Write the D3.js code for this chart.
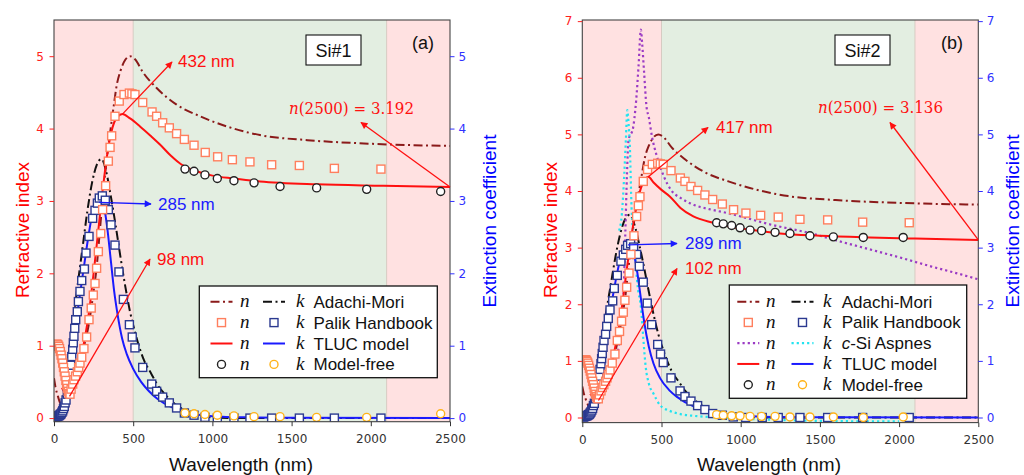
<!DOCTYPE html>
<html><head><meta charset="utf-8">
<script src="https://cdn.jsdelivr.net/npm/d3@7"></script>
<style>body{margin:0;background:#fff}svg{display:block}</style>
</head><body><svg id="c" width="1024" height="475"></svg>
<script>
// ---------------- DATA ----------------
const xTicks=[0,500,1000,1500,2000,2500];
const yTicksA=[0,1,2,3,4,5];
const yTicksB=[0,1,2,3,4,5,6,7];
const regionStart=[0,500,2100];
const regionEnd=[500,2100,2500];

// Palik Handbook (shared by both panels)
const palikNWl=[10,15,20,25,30,35,40,45,50,55,60,65,70,75,80,85,90,95,101,108,118,126,136,147,156,164,175,189,206,221,235,248,259,269,280,295,307,326,343,354,364,385,412,442,476,492,511,560,619,648,686,728,774,823,884,955,1033,1126,1237,1374,1549,1770,2064];
const palikN=[1.00,1.02,1.02,1.01,0.99,0.96,0.92,0.87,0.82,0.76,0.70,0.64,0.58,0.52,0.46,0.41,0.37,0.34,0.33,0.40,0.47,0.53,0.58,0.64,0.70,0.76,0.84,0.96,1.12,1.36,1.52,1.70,1.86,2.07,2.30,2.55,2.88,3.21,3.55,3.74,3.90,4.17,4.38,4.47,4.49,4.48,4.47,4.36,4.23,4.17,4.08,4.01,3.93,3.85,3.77,3.67,3.61,3.57,3.54,3.50,3.49,3.45,3.44];
const palikKWl=[5,10,15,20,25,30,35,40,45,50,55,60,65,70,76,84,90,95,100,105,112,118,122,126,131,137,147,154,164,175,192,202,221,244,259,274,286,305,324,343,360,385,410,438,476,494,511,560,617,648,686,728,774,823,884,953,1031,1136,1237,1374,1549,1770,2064];
const palikK=[0.01,0.01,0.02,0.02,0.03,0.03,0.04,0.05,0.06,0.08,0.10,0.13,0.16,0.21,0.25,0.33,0.43,0.52,0.62,0.73,0.85,0.95,1.04,1.13,1.24,1.36,1.47,1.61,1.75,1.90,2.06,2.28,2.51,2.76,2.87,2.97,3.04,3.07,3.01,2.88,2.67,2.39,2.02,1.64,1.29,1.12,0.97,0.70,0.47,0.37,0.29,0.21,0.14,0.07,0.04,0.01,0,0,0,0,0,0,0];

// Adachi-Mori (shared)
const adachiNWl=[0,10,25,40,60,80,100,130,160,190,220,250,270,290,310,330,354,375,396,420,450,480,510,564,648,774,922,1090,1300,1600,2000,2500];
const adachiN=[0.55,0.42,0.30,0.20,0.16,0.24,0.36,0.56,0.78,1.00,1.30,1.75,2.10,2.60,3.10,3.52,3.94,4.28,4.60,4.80,4.95,5.00,4.96,4.77,4.56,4.33,4.17,4.03,3.91,3.84,3.79,3.76];
const adachiKWl=[0,20,35,50,70,90,120,150,180,210,240,270,300,330,360,390,420,450,480,510,540,570,610,650,700,750,800,850,900,1000,1200,2500];
const adachiK=[0,0,0.05,0.18,0.45,0.75,1.3,1.85,2.35,2.85,3.25,3.5,3.58,3.4,3.05,2.65,2.22,1.82,1.47,1.2,0.97,0.79,0.63,0.47,0.33,0.22,0.14,0.08,0.04,0.01,0,0];

// TLUC model, Si#1
const tlucANWl=[50,75,98,130,160,190,220,250,280,310,340,370,400,432,480,543,610,669,740,800,900,1000,1136,1300,1658,2079,2500];
const tlucAN=[0.42,0.33,0.30,0.50,0.75,1.05,1.45,2.00,2.60,3.20,3.70,4.02,4.16,4.20,4.14,4.03,3.90,3.78,3.62,3.51,3.41,3.35,3.31,3.27,3.23,3.21,3.192];
const tlucAKWl=[30,45,60,80,100,126,160,189,220,253,285,310,335,360,380,400,430,460,500,550,600,650,700,800,900,1000,1200,1500,2500];
const tlucAK=[0,0.02,0.08,0.3,0.6,1.08,1.65,2.09,2.55,2.92,3.0,2.96,2.65,2.15,1.75,1.45,1.1,0.88,0.68,0.5,0.37,0.27,0.2,0.1,0.05,0.025,0.01,0.005,0];
// TLUC model, Si#2
const tlucBNWl=[50,75,102,130,160,190,220,250,280,310,340,370,395,417,450,500,554,620,701,827,950,1080,1248,1500,1815,2100,2500];
const tlucBN=[0.42,0.33,0.30,0.48,0.72,1.02,1.42,1.95,2.6,3.2,3.7,4.05,4.2,4.25,4.15,4.02,3.9,3.7,3.55,3.44,3.36,3.31,3.25,3.21,3.18,3.16,3.136];
const tlucBKWl=[30,45,60,80,100,126,160,190,220,255,289,320,345,370,390,420,450,490,550,600,700,800,900,1000,1200,1500,2500];
const tlucBK=[0,0.02,0.08,0.3,0.6,1.08,1.65,2.1,2.55,2.95,3.05,2.95,2.6,2.1,1.7,1.25,0.95,0.7,0.48,0.36,0.2,0.11,0.06,0.03,0.01,0.005,0];

// Model-free
const mfAWl=[827,884,953,1031,1136,1263,1427,1658,1974,2441];
const mfAN=[3.44,3.41,3.36,3.31,3.28,3.25,3.20,3.18,3.16,3.13];
const mfAK=[0.07,0.06,0.05,0.04,0.03,0.02,0.02,0.01,0.01,0.06];
const mfBWl=[848,890,943,996,1059,1132,1217,1311,1437,1585,1774,2026];
const mfBN=[3.44,3.42,3.39,3.35,3.31,3.30,3.27,3.25,3.21,3.19,3.18,3.18];
const mfBK=[0.05,0.04,0.03,0.03,0.02,0.02,0.02,0.01,0.01,0.01,0.0,0.01];

// c-Si Aspnes (Si#2 only)
const aspnesNWl=[210,230,250,262,272,282,292,305,318,340,355,370,378,390,405,420,440,470,516,560,630,700,800,900,1000,1200,1400,1500,1600,1800,2000,2200,2400,2500];
const aspnesN=[1.0,1.25,1.65,2.3,3.3,4.3,4.9,5.0,5.08,5.6,6.2,6.85,6.6,6.1,5.5,5.3,4.96,4.62,4.25,4.02,3.86,3.76,3.68,3.62,3.55,3.40,3.28,3.21,3.13,2.98,2.83,2.67,2.52,2.44];
const aspnesKWl=[232,250,265,275,284,292,300,311,330,350,370,385,400,420,450,490,550,620,700,800,900,1000,1200,1500,2000];
const aspnesK=[3.3,3.6,4.3,4.9,5.43,5.2,4.8,3.7,3.0,2.3,1.95,1.4,0.9,0.6,0.42,0.22,0.12,0.06,0.03,0.01,0,-0.02,-0.04,-0.06,-0.07];

// ---------------- STYLE ----------------
const C={adN:'#8B1A1A',adK:'#111',palN:'#FF7F5E',palK:'#2B3990',tN:'#FF1010',tK:'#1A1AFF',mfN:'#222',mfK:'#FFB31A',aspN:'#9B3BC4',aspK:'#22E3F0',pink:'#FFE1E1',green:'#E3EEE1'};
const regionColor=[C.pink,C.green,C.pink];
const DASHDOT='9,3.5,2,3.5', DOT='2.2,3';
const SANS="'Liberation Sans', Arial, sans-serif", TICKF="'DejaVu Sans', sans-serif", SERIF="'DejaVu Serif', serif";

const svg=d3.select('#c');
const defs=svg.append('defs');
function arrowMarker(id,color){
  defs.append('marker').attr('id',id).attr('viewBox','0 0 10 10').attr('refX',9).attr('refY',5)
    .attr('markerWidth',9).attr('markerHeight',7).attr('markerUnits','userSpaceOnUse').attr('orient','auto')
    .append('path').attr('d','M0,0 L10,5 L0,10 Z').attr('fill',color);
}
arrowMarker('arR','#FF1010'); arrowMarker('arB','#1A1AFF');
const zip=(a,b)=>a.map((v,i)=>[v,b[i]]);

function drawPanel(P){
  const g=svg.append('g');
  const x=d3.scaleLinear().domain([0,2500]).range([P.left,P.right]);
  const y=d3.scaleLinear().domain(P.yDom).range([P.bottom,P.top]);
  const clipId='clip'+P.id;
  defs.append('clipPath').attr('id',clipId).append('rect').attr('x',P.left).attr('y',P.top).attr('width',P.right-P.left).attr('height',P.bottom-P.top);
  regionStart.forEach((s,i)=>{
    g.append('rect').attr('x',x(s)).attr('y',P.top).attr('width',x(regionEnd[i])-x(s)).attr('height',P.bottom-P.top).attr('fill',regionColor[i]);
  });
  [500,2100].forEach(v=>g.append('line').attr('x1',x(v)).attr('x2',x(v)).attr('y1',P.top).attr('y2',P.bottom).attr('stroke','#d6cbc2').attr('stroke-width',1));
  const plot=g.append('g').attr('clip-path',`url(#${clipId})`);
  const line=d3.line().x(d=>x(d[0])).y(d=>y(d[1])).curve(d3.curveMonotoneX);
  const path=(data,color,w,dash)=>plot.append('path').datum(data).attr('d',line).attr('fill','none')
    .attr('stroke',color).attr('stroke-width',w).attr('stroke-dasharray',dash||null);
  path(zip(adachiNWl,adachiN),C.adN,2,DASHDOT);
  path(zip(adachiKWl,adachiK),C.adK,2,DASHDOT);
  if(P.aspnes){
    path(zip(aspnesNWl,aspnesN),C.aspN,2.2,DOT);
    path(zip(aspnesKWl,aspnesK),C.aspK,2.2,DOT);
  }
  path(zip(P.tnW,P.tn),C.tN,2);
  path(zip(P.tkW,P.tk),C.tK,2);
  const sq=8;
  const squares=(data,color)=>plot.append('g').selectAll('rect').data(data).enter().append('rect')
    .attr('x',d=>x(d[0])-sq/2).attr('y',d=>y(d[1])-sq/2).attr('width',sq).attr('height',sq)
    .attr('fill','#fff').attr('stroke',color).attr('stroke-width',1.4);
  squares(zip(palikKWl,palikK),C.palK);
  squares(zip(palikNWl,palikN),C.palN);
  const circles=(data,color)=>plot.append('g').selectAll('circle').data(data).enter().append('circle')
    .attr('cx',d=>x(d[0])).attr('cy',d=>y(d[1])).attr('r',4).attr('fill','#fff').attr('stroke',color).attr('stroke-width',1.4);
  circles(zip(P.mfW,P.mfN),C.mfN);
  circles(zip(P.mfW,P.mfK),C.mfK);

  // spines
  g.append('rect').attr('x',P.left).attr('y',P.top).attr('width',P.right-P.left).attr('height',P.bottom-P.top)
    .attr('fill','none').attr('stroke','#444').attr('stroke-width',1.1);

  // axes
  const fmt=d3.format('d');
  const styleAx=(s,col)=>{s.select('.domain').remove();s.attr('font-family',TICKF).attr('font-size',12);
    s.selectAll('line').attr('stroke',col).attr('stroke-width',1);s.selectAll('text').attr('fill',col);};
  g.append('g').attr('transform',`translate(${P.left},0)`).call(d3.axisLeft(y).tickValues(P.yTicks).tickSize(4.5).tickPadding(5.5).tickFormat(fmt)).call(s=>styleAx(s,'#FF2020'));
  g.append('g').attr('transform',`translate(${P.right},0)`).call(d3.axisRight(y).tickValues(P.yTicks).tickSize(4.5).tickPadding(4).tickFormat(fmt)).call(s=>styleAx(s,'#3030FF'));
  g.append('g').attr('transform',`translate(0,${P.bottom})`).call(d3.axisBottom(x).tickValues(xTicks).tickSize(4.5).tickPadding(8).tickFormat(fmt)).call(s=>styleAx(s,'#333'));

  // axis labels
  g.append('text').attr('x',P.xLabX).attr('y',471).attr('text-anchor','middle').attr('font-family',SANS).attr('font-size',19).attr('fill','#111').text('Wavelength (nm)');
  g.append('text').attr('transform',`translate(${P.yLabX},230) rotate(-90)`).attr('dy','0.35em').attr('text-anchor','middle').attr('font-family',SANS).attr('font-size',19).attr('fill','#FF0000').text('Refractive index');
  g.append('text').attr('transform',`translate(${P.y2LabX},221) rotate(-90)`).attr('dy','0.35em').attr('text-anchor','middle').attr('font-family',SANS).attr('font-size',19).attr('fill','#0000FF').text('Extinction coefficient');

  // sample box and panel letter
  g.append('rect').attr('x',P.boxX).attr('y',35).attr('width',55).attr('height',30).attr('fill','#fff').attr('stroke','#111').attr('stroke-width',1.1);
  g.append('text').attr('x',P.boxX+27.5).attr('y',56.5).attr('text-anchor','middle').attr('font-family',SANS).attr('font-size',18).attr('fill','#111').text(P.sample);
  g.append('text').attr('x',P.letterX).attr('y',49).attr('text-anchor','middle').attr('font-family',SANS).attr('font-size',18).attr('fill','#111').text(P.letter);

  // annotations
  const arrow=(x1,y1,x2,y2,col,mk)=>g.append('line').attr('x1',x1).attr('y1',y1).attr('x2',x2).attr('y2',y2)
    .attr('stroke',col).attr('stroke-width',1.3).attr('marker-end',`url(#${mk})`);
  const lab=(tx,ty,txt,col)=>g.append('text').attr('x',tx).attr('y',ty).attr('font-family',SANS).attr('font-size',17).attr('fill',col).text(txt);
  P.ann.forEach(a=>{
    const col=a.blue?C.tK:C.tN;
    arrow(x(a.wl),y(a.v),a.hx,a.hy,col,a.blue?'arB':'arR');
    lab(a.tx,a.ty,a.text,col);
  });
  // n(2500)
  arrow(x(2500),y(P.n2500),P.nArrow[0],P.nArrow[1],C.tN,'arR');
  const t=g.append('text').attr('x',P.nText[0]).attr('y',P.nText[1]).attr('font-family',SERIF).attr('font-size',16)
    .attr('textLength',125).attr('lengthAdjust','spacingAndGlyphs').attr('fill','#FF1010');
  t.append('tspan').attr('font-style','italic').text('n');
  t.append('tspan').text('(2500) = '+P.n2500.toFixed(3));

  // legend
  const L=P.leg;
  const lg=g.append('g');
  lg.append('rect').attr('x',L.x).attr('y',L.y).attr('width',L.w).attr('height',L.h).attr('fill','#fff').attr('stroke','#111').attr('stroke-width',1.3);
  L.rows.forEach((r,i)=>{
    const cy=L.y+L.r0+L.dy*i;
    [[r.n,L.nx],[r.k,L.kx]].forEach(([h,cx])=>{
      if(h.type==='line'){
        lg.append('line').attr('x1',cx-11).attr('x2',cx+11).attr('y1',cy).attr('y2',cy).attr('stroke',h.color).attr('stroke-width',h.w||2).attr('stroke-dasharray',h.dash||null);
      } else if(h.type==='sq'){
        lg.append('rect').attr('x',cx-sq/2).attr('y',cy-sq/2).attr('width',sq).attr('height',sq).attr('fill','#fff').attr('stroke',h.color).attr('stroke-width',1.4);
      } else {
        lg.append('circle').attr('cx',cx).attr('cy',cy).attr('r',4).attr('fill','#fff').attr('stroke',h.color).attr('stroke-width',1.4);
      }
    });
    lg.append('text').attr('x',L.ntx).attr('y',cy+5.5).attr('font-family','Liberation Serif, serif').attr('font-style','italic').attr('font-size',19).attr('fill','#111').text('n');
    lg.append('text').attr('x',L.ktx).attr('y',cy+5.5).attr('font-family','Liberation Serif, serif').attr('font-style','italic').attr('font-size',19).attr('fill','#111').text('k');
    const tt=lg.append('text').attr('x',L.lx).attr('y',cy+6).attr('font-family',SANS).attr('font-size',17).attr('fill','#111');
    if(r.italicPrefix){ tt.append('tspan').attr('font-style','italic').text(r.italicPrefix); }
    tt.append('tspan').text(r.label);
  });
}

const rowsBase=[
  {n:{type:'line',color:C.adN,dash:DASHDOT},k:{type:'line',color:C.adK,dash:DASHDOT},label:'Adachi-Mori'},
  {n:{type:'sq',color:C.palN},k:{type:'sq',color:C.palK},label:'Palik Handbook'}
];
const rowAsp={n:{type:'line',color:C.aspN,dash:DOT,w:2.2},k:{type:'line',color:C.aspK,dash:DOT,w:2.2},italicPrefix:'c',label:'-Si Aspnes'};
const rowsTail=[
  {n:{type:'line',color:C.tN},k:{type:'line',color:C.tK},label:'TLUC model'},
  {n:{type:'circ',color:C.mfN},k:{type:'circ',color:C.mfK},label:'Model-free'}
];

drawPanel({id:'A',left:54,right:450,top:20,bottom:421.7,yDom:[-0.05,5.5],yTicks:yTicksA,
  tnW:tlucANWl,tn:tlucAN,tkW:tlucAKWl,tk:tlucAK,mfW:mfAWl,mfN:mfAN,mfK:mfAK,aspnes:false,
  xLabX:241,yLabX:22,y2LabX:489,boxX:306,sample:'Si#1',letterX:423,letter:'(a)',
  ann:[{wl:432,v:4.20,hx:172,hy:62,tx:178,ty:67,text:'432 nm'},
       {wl:285,v:2.98,hx:151,hy:204,tx:158,ty:210,text:'285 nm',blue:true},
       {wl:98,v:0.30,hx:150,hy:259,tx:157,ty:265,text:'98 nm'}],
  n2500:3.192,nArrow:[361,122.5],nText:[289,114],
  leg:{x:199.3,y:286,w:238,h:91.7,r0:15.7,dy:20.9,nx:221.5,ntx:240,kx:274,ktx:296,lx:313.5,rows:rowsBase.concat(rowsTail)}});

drawPanel({id:'B',left:582.3,right:978.3,top:20,bottom:422.6,yDom:[-0.09,7.02],yTicks:yTicksB,
  tnW:tlucBNWl,tn:tlucBN,tkW:tlucBKWl,tk:tlucBK,mfW:mfBWl,mfN:mfBN,mfK:mfBK,aspnes:true,
  xLabX:769,yLabX:550,y2LabX:1012,boxX:835,sample:'Si#2',letterX:952,letter:'(b)',
  ann:[{wl:417,v:4.25,hx:708,hy:127.5,tx:716,ty:133,text:'417 nm'},
       {wl:289,v:3.05,hx:677,hy:243.5,tx:685,ty:249,text:'289 nm',blue:true},
       {wl:102,v:0.30,hx:677,hy:268.5,tx:685,ty:274,text:'102 nm'}],
  n2500:3.136,nArrow:[890,122.5],nText:[818,113],
  leg:{x:729.3,y:285,w:237.4,h:113.3,r0:16.7,dy:20.75,nx:748.3,ntx:766,kx:802.5,ktx:823,lx:841.7,rows:rowsBase.concat([rowAsp]).concat(rowsTail)}});
</script></body></html>
